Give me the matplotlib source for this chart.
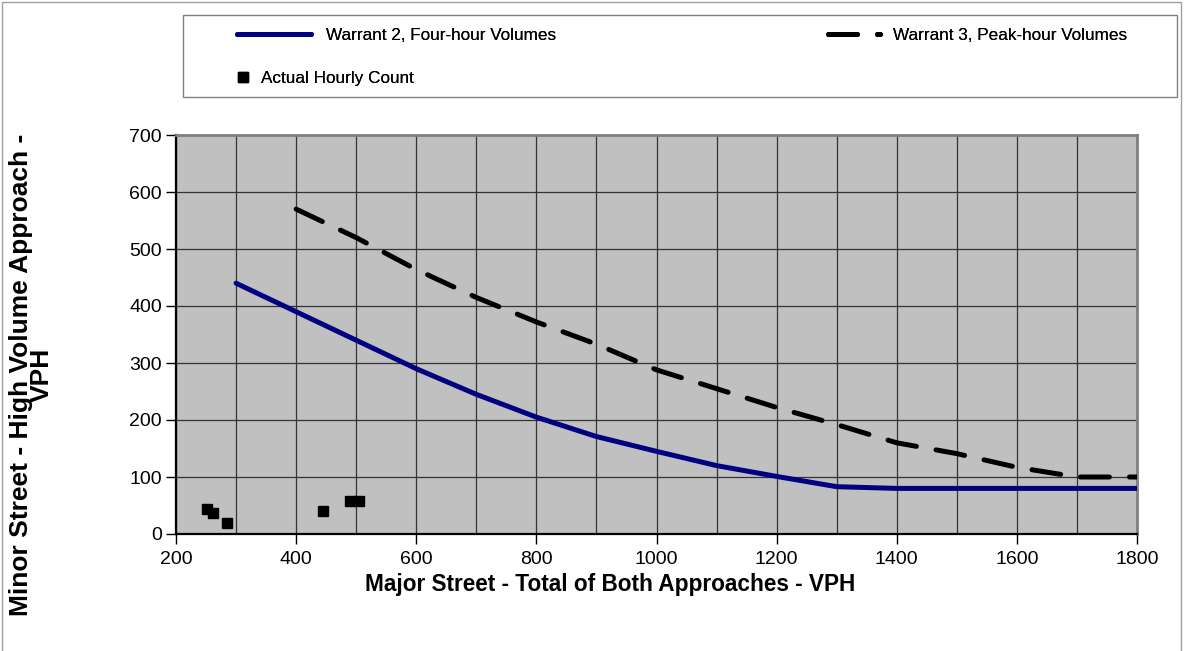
import matplotlib
matplotlib.use("Agg")
import matplotlib.pyplot as plt
from matplotlib.legend_handler import HandlerLine2D
from matplotlib.patches import Rectangle

plt.rcParams['font.family'] = ['Liberation Sans', 'DejaVu Sans']

# warrant curves (major street vph -> minor street vph)
w2_major = [300, 400, 500, 600, 700, 800, 900, 1000, 1100, 1200, 1300, 1400, 1500, 1600, 1700, 1800]
w2_minor = [440, 390, 340, 290, 245, 205, 171, 145, 120, 101, 83, 80, 80, 80, 80, 80]

w3_major = [400, 500, 600, 700, 800, 900, 1000, 1100, 1200, 1300, 1400, 1500, 1600, 1700, 1800]
w3_minor = [570, 520, 464, 415, 372, 333, 288, 255, 222, 192, 160, 141, 117, 100, 100]

# actual hourly counts
count_major = [252, 262, 285, 445, 490, 505]
count_minor = [44, 37, 20, 40, 58, 58]

W, H = 1188, 651


class LeftMarker(HandlerLine2D):
    # excel puts the legend marker near the left, not centred
    def get_xdata(self, legend, xdescent, ydescent, width, height, fontsize):
        return [-xdescent, width - xdescent], [-xdescent + 3]


fig = plt.figure(figsize=(W / 100, H / 100), dpi=100)
ax = fig.add_axes([176 / W, 1 - 534 / H, (1137 - 176) / W, (534 - 135) / H])

ax.set_facecolor('#c0c0c0')
l2, = ax.plot(w2_major, w2_minor, color='#000080', lw=3.6, solid_capstyle='round',
              label='Warrant 2, Four-hour Volumes', zorder=3)
l3, = ax.plot(w3_major, w3_minor, color='black', lw=3.6, dashes=(5.8, 4.0),
              dash_capstyle='round', label='Warrant 3, Peak-hour Volumes', zorder=3)
pts, = ax.plot(count_major, count_minor, ls='none', marker='s', ms=6.5, color='black',
               label='Actual Hourly Count', zorder=4)

ax.set_xlim(200, 1800)
ax.set_ylim(0, 700)
ax.set_xticks(range(200, 1801, 200))
ax.set_xticks(range(300, 1800, 200), minor=True)
ax.set_yticks(range(0, 701, 100))
ax.grid(True, which='both', color='#333333', lw=0.9)
ax.tick_params(which='minor', length=0)
ax.tick_params(which='major', length=7, width=1, direction='out', labelsize=14,
               colors='black')
ax.tick_params(axis='x', pad=5)
ax.tick_params(axis='y', pad=3)
ax.set_axisbelow(True)

for s in ['top', 'right']:
    ax.spines[s].set_color('#808080')
    ax.spines[s].set_linewidth(2)
for s in ['left', 'bottom']:
    ax.spines[s].set_color('black')
    ax.spines[s].set_linewidth(1.6)

ax.set_xlabel('Major Street - Total of Both Approaches - VPH', fontsize=16.3,
              fontweight='bold')
ax.xaxis.set_label_coords((610 - 176) / 961, (534 - 573) / 399)
ax.set_ylabel('Minor Street - High Volume Approach -\nVPH', fontsize=19,
              fontweight='bold', linespacing=0.85)
ax.yaxis.set_label_coords((54 - 176) / 961, (534 - 375) / 399)

# legend, one block per entry so each sits where excel put it
fs = 12.3
fpx = fs * 100 / 72


def entry(handle, label, x, y, hlen, pad, **kw):
    lg = fig.legend([handle], [label], loc='center left',
                    bbox_to_anchor=(x / W, 1 - y / H), frameon=False,
                    fontsize=fs, handlelength=hlen / fpx, handletextpad=pad / fpx,
                    borderpad=0, borderaxespad=0, numpoints=1, **kw)
    fig.add_artist(lg)
    return lg


entry(l2, 'Warrant 2, Four-hour Volumes', 237, 35, 74, 15)
entry(l3, 'Warrant 3, Peak-hour Volumes', 828, 35, 52, 13)
entry(pts, 'Actual Hourly Count', 237, 78, 12, 12, handler_map={pts: LeftMarker()})

fig.add_artist(Rectangle((183 / W, 1 - 97 / H), (1177 - 183) / W, (97 - 15) / H,
                         transform=fig.transFigure, fill=False,
                         edgecolor='#808080', lw=1))

# outer chart border
fig.add_artist(Rectangle((2 / W, -0.01), (1181 - 2) / W, 1 - 2 / H + 0.01,
                         transform=fig.transFigure, fill=False,
                         edgecolor='#a0a0a0', lw=1))

fig.savefig('out.png', dpi=100)
